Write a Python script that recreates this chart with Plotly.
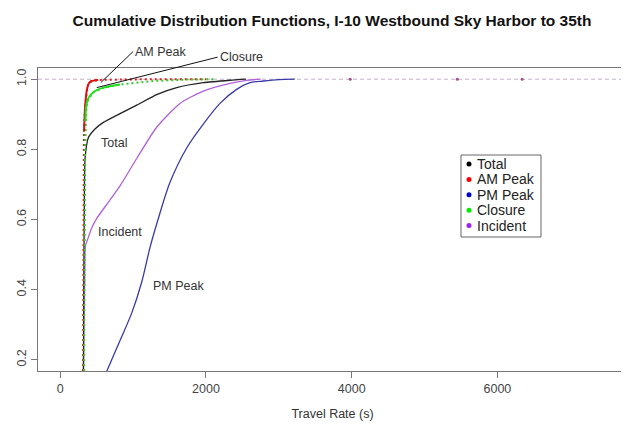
import plotly.graph_objects as go

# ---- data ----
total_x = [318, 322, 330, 340, 385, 476, 591, 820, 1049, 1323, 1598, 1963, 2330, 2550]
total_y = [0.168, 0.40, 0.65, 0.774, 0.833, 0.858, 0.877, 0.902, 0.926, 0.956, 0.976, 0.990, 0.997, 1.0]

am_x = [312, 314, 318, 325, 340, 355, 370, 390, 430, 520, 700, 1000, 1500, 2000]
am_y = [0.168, 0.40, 0.70, 0.85, 0.92, 0.955, 0.975, 0.988, 0.995, 0.998, 0.999, 0.9995, 1.0, 1.0]

pm_x = [560, 637, 820, 980, 1117, 1231, 1346, 1506, 1735, 1963, 2192, 2421, 2604, 2787, 3000, 3220]
pm_y = [0.13, 0.167, 0.255, 0.333, 0.421, 0.52, 0.603, 0.706, 0.804, 0.872, 0.931, 0.971, 0.990, 0.995, 0.999, 1.0]

closure_x = [320, 323, 328, 335, 345, 353, 385, 453, 591, 820, 1275, 1735, 2100]
closure_y = [0.168, 0.40, 0.65, 0.80, 0.88, 0.92, 0.946, 0.963, 0.976, 0.985, 0.995, 0.999, 1.0]

incident_x = [318, 325, 335, 339, 345, 385, 430, 500, 659, 820, 1049, 1323, 1643, 1963, 2330, 2560, 2750]
incident_y = [0.168, 0.30, 0.42, 0.50, 0.525, 0.549, 0.575, 0.603, 0.649, 0.696, 0.774, 0.863, 0.931, 0.966, 0.988, 0.997, 1.0]

outlier_x = [3980, 5450, 6340]
outlier_y = [1.0, 1.0, 1.0]

series_names = ["Total", "AM Peak", "PM Peak", "Closure", "Incident"]
series_colors = ["#000000", "#ff0000", "#0000cd", "#00ee00", "#a020f0"]

x_ticks = [0, 2000, 4000, 6000]
y_ticks = [0.2, 0.4, 0.6, 0.8, 1.0]
y_ticklabels = ["0.2", "0.4", "0.6", "0.8", "1.0"]
ref_level = 1.0

FONT = "Liberation Sans, Arial, sans-serif"

# page body adds an 8px margin; size the figure to compensate
OFF = 8
W, H = 629 - OFF, 425 - OFF
ML, MR, MT, MB = 30, 2, 60, 54
PW, PH = W - ML - MR, H - MT - MB


def px_x(p):
    return (p - OFF - ML) / PW


def px_y(p):
    return 1 - (p - OFF - MT) / PH


fig = go.Figure()

# reference dashed line at F = 1
fig.add_trace(go.Scatter(x=[-306, 7779], y=[ref_level, ref_level], mode="lines",
                         line=dict(color="#c8b0c8", width=1, dash="4px,3px"),
                         showlegend=False, hoverinfo="skip"))

# curves
fig.add_trace(go.Scatter(x=pm_x, y=pm_y, mode="lines", name="PM Peak",
                         line=dict(color="#3a3aa8", width=1.3, shape="spline", smoothing=0.8),
                         showlegend=False))
fig.add_trace(go.Scatter(x=incident_x, y=incident_y, mode="lines", name="Incident",
                         line=dict(color="#b060d8", width=1.3, shape="spline", smoothing=0.6),
                         showlegend=False))
fig.add_trace(go.Scatter(x=total_x, y=total_y, mode="lines", name="Total",
                         line=dict(color="#222222", width=1.3, shape="spline", smoothing=0.5),
                         showlegend=False))
# dotted (point-like) parts of AM Peak and Closure
fig.add_trace(go.Scatter(x=am_x, y=am_y, mode="lines", name="AM Peak",
                         line=dict(color="#dd2020", width=2, dash="2px,3px"), showlegend=False))
fig.add_trace(go.Scatter(x=[v + 6 for v in closure_x], y=closure_y, mode="lines", name="Closure",
                         line=dict(color="#30cc30", width=2, dash="2px,3px"), showlegend=False))
# solid knee parts
fig.add_trace(go.Scatter(x=am_x[3:10], y=am_y[3:10], mode="lines",
                         line=dict(color="#e01010", width=2, shape="spline", smoothing=0.5),
                         showlegend=False))
fig.add_trace(go.Scatter(x=closure_x[4:10], y=closure_y[4:10], mode="lines",
                         line=dict(color="#20dd20", width=2, shape="spline", smoothing=0.5),
                         showlegend=False))

fig.add_trace(go.Scatter(x=outlier_x, y=outlier_y, mode="markers",
                         marker=dict(color="#a05088", size=3), showlegend=False))

# labels
label_font = dict(family=FONT, size=12.5, color="#333333")
fig.add_annotation(x=559, y=0.991, ax=1000, ay=1.079, axref="x", ayref="y",
                   text="AM Peak", showarrow=True, arrowhead=0, arrowwidth=1,
                   arrowcolor="#111111", xanchor="left", font=label_font)
fig.add_annotation(x=500, y=0.976, ax=2160, ay=1.063, axref="x", ayref="y",
                   text="Closure", showarrow=True, arrowhead=0, arrowwidth=1,
                   arrowcolor="#111111", xanchor="left", font=label_font)
fig.add_annotation(x=739, y=0.818, text="Total", showarrow=False, font=label_font)
fig.add_annotation(x=826, y=0.565, text="Incident", showarrow=False, font=label_font)
fig.add_annotation(x=1622, y=0.410, text="PM Peak", showarrow=False, font=label_font)

# legend box (R style: dot + text)
fig.add_shape(type="rect", xref="paper", yref="paper",
              x0=px_x(461), x1=px_x(541), y0=px_y(237), y1=px_y(155),
              line=dict(color="#666666", width=1), fillcolor="white", layer="above")
row0, step = 164, 15.4
for i, (name, col) in enumerate(zip(series_names, series_colors)):
    cy = row0 + i * step
    fig.add_shape(type="circle", xref="paper", yref="paper",
                  x0=px_x(466.5), x1=px_x(471.5), y0=px_y(cy + 2.5), y1=px_y(cy - 2.5),
                  line=dict(color=col, width=0), fillcolor=col, layer="above")
    fig.add_annotation(xref="paper", yref="paper", x=px_x(475), y=px_y(cy),
                       xanchor="left", yanchor="middle", text=name, showarrow=False,
                       font=dict(family=FONT, size=14, color="#222222"))

axis_common = dict(showgrid=False, zeroline=False, showline=True, mirror=True, automargin=False,
                   linecolor="#777777", linewidth=1, ticks="outside", ticklen=6,
                   tickcolor="#777777", tickfont=dict(family=FONT, size=12.5, color="#444444"))

fig.update_layout(
    width=W, height=H,
    margin=dict(l=ML, r=MR, t=MT, b=MB, autoexpand=False),
    paper_bgcolor="white", plot_bgcolor="white",
    font=dict(family=FONT, color="#222222"),
    title=dict(text="<b>Cumulative Distribution Functions, I-10 Westbound Sky Harbor to 35th</b>",
               x=(332 - OFF) / W, xanchor="center", y=1 - (21 - OFF) / H, yanchor="middle",
               font=dict(family=FONT, size=15.5, color="#111111"), automargin=False),
    xaxis=dict(range=[-306, 7779], tickvals=x_ticks,
               title=dict(text="Travel Rate (s)", font=dict(family=FONT, size=12.5, color="#333333"),
                          standoff=14),
               **axis_common),
    yaxis=dict(range=[0.168, 1.032], tickvals=y_ticks, ticktext=y_ticklabels, tickangle=-90,
               **axis_common),
    showlegend=False,
)

fig.write_html("out.html")
